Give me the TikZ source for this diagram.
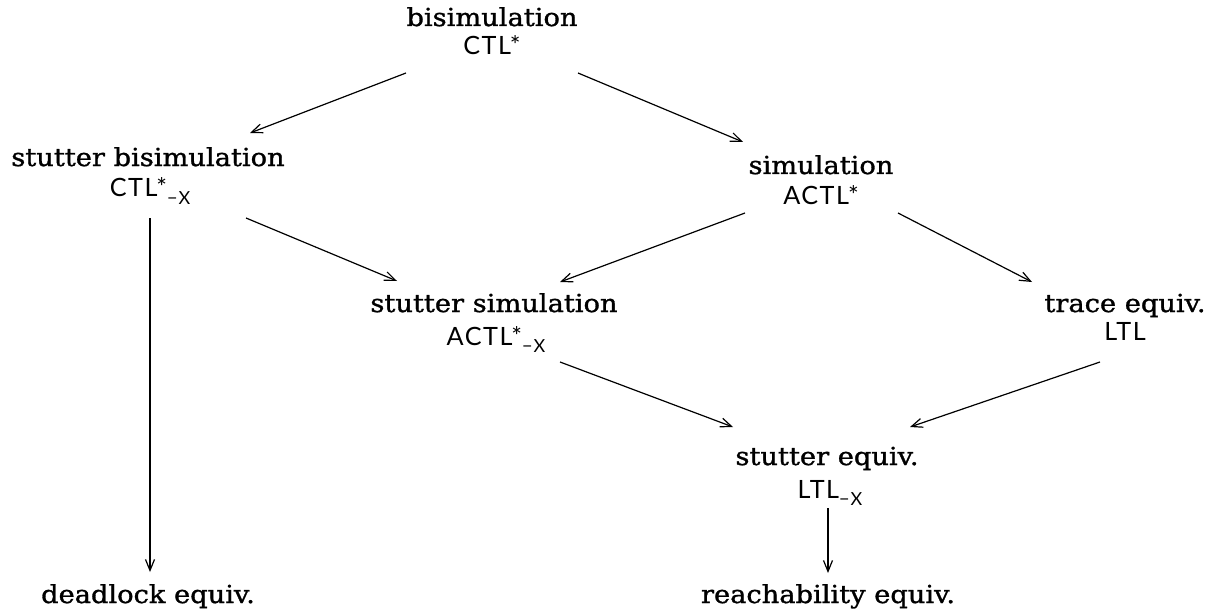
\documentclass[tikz,border=0pt]{standalone}
\usepackage{fontspec}
\setmainfont{DejaVu Serif}[FakeStretch=1.1, FakeBold=1.2]
\setsansfont{Lato}[LetterSpace=6]
\usetikzlibrary{arrows.meta}

\newcommand{\upstar}{*}
\newcommand{\noX}{\raisebox{-0.55ex}{\small −X}}

\begin{document}
\begin{tikzpicture}[x=0.5pt, y=-0.5pt, inner sep=0, outer sep=0,
  eqname/.style={anchor=base, font=\fontsize{12.4}{14}\selectfont},
  logic/.style={anchor=base, font=\fontsize{12.6}{14}\selectfont\sffamily},
  arr/.style={-{Straight Barb[length=5.5pt,width=4.5pt]}, line width=0.6pt}]
  \useasboundingbox (0,0) rectangle (1210,615);

  \node[eqname] (bisim) at (492,26) {bisimulation};
  \node[logic] (bisimL) at (492,55) {CTL\upstar};

  \node[eqname] (stbisim) at (148,166) {stutter bisimulation};
  \node[logic] (stbisimL) at (150,197) {CTL\upstar\noX};

  \node[eqname] (sim) at (821,174) {simulation};
  \node[logic] (simL) at (821,205) {ACTL\upstar};

  \node[eqname] (stsim) at (494,312) {stutter simulation};
  \node[logic] (stsimL) at (496,345) {ACTL\upstar\noX};

  \node[eqname] (trace) at (1125,312) {trace equiv.};
  \node[logic] (traceL) at (1125,340) {LTL};

  \node[eqname] (steq) at (827,465) {stutter equiv.};
  \node[logic] (steqL) at (830,498) {LTL\noX};

  \node[eqname] (dead) at (148,603) {deadlock equiv.};
  \node[eqname] (reach) at (828,603) {reachability equiv.};

  \draw[arr] ([shift={(-86,18)}]bisimL.base) -- ([shift={(102,-33)}]stbisim.base);
  \draw[arr] ([shift={(86,18)}]bisimL.base) -- ([shift={(-78,-32)}]sim.base);
  \draw[arr] ([shift={(96,21)}]stbisimL.base) -- ([shift={(-97,-31)}]stsim.base);
  \draw[arr] ([shift={(-76,8)}]simL.base) -- ([shift={(66,-30)}]stsim.base);
  \draw[arr] ([shift={(77,8)}]simL.base) -- ([shift={(-93,-30)}]trace.base);
  \draw[arr] ([shift={(64,17)}]stsimL.base) -- ([shift={(-94,-38)}]steq.base);
  \draw[arr] ([shift={(-25,22)}]traceL.base) -- ([shift={(83,-38)}]steq.base);
  \draw[arr] ([shift={(0,21)}]stbisimL.base) -- ([shift={(2,-31)}]dead.base);
  \draw[arr] ([shift={(-2,10)}]steqL.base) -- ([shift={(0,-30)}]reach.base);
\end{tikzpicture}
\end{document}
